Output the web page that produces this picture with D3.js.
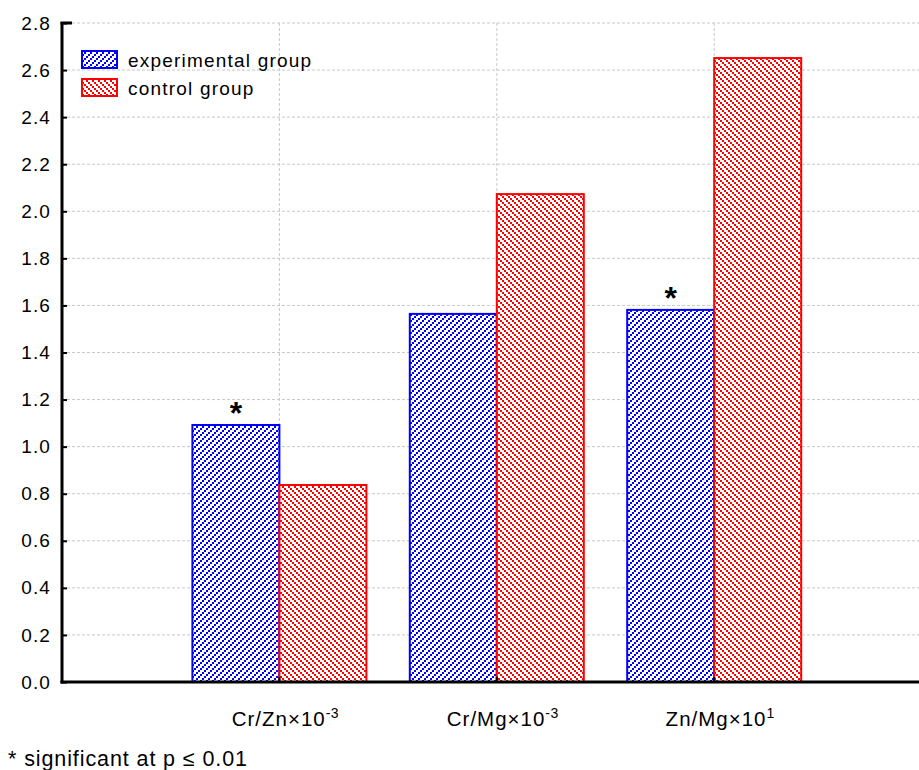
<!DOCTYPE html>
<html><head><meta charset="utf-8">
<script src="https://cdn.jsdelivr.net/npm/d3@7"></script>
<style>body{margin:0;background:#fff}svg{display:block}text{font-family:"Liberation Sans",Arial,Helvetica,sans-serif}</style>
</head><body><svg id="c" width="919" height="770"></svg>
<script>
const categories = ["Cr/Zn", "Cr/Mg", "Zn/Mg"];
const exponents = ["-3", "-3", "1"];
const experimental = [1.092, 1.564, 1.581];
const control = [0.837, 2.073, 2.651];
const significant = [true, false, true];
const seriesNames = ["experimental group", "control group"];
const yTicks = [0,0.2,0.4,0.6,0.8,1.0,1.2,1.4,1.6,1.8,2.0,2.2,2.4,2.6,2.8];

const svg = d3.select("#c");
const L = 62, T = 23, B = 682, R = 919;
const y = d3.scaleLinear().domain([0, 2.8]).range([B, T]);
const x = d3.scalePoint().domain(["_a", ...categories, "_b"]).range([L, L + 4 * 217.4]);
const bw = 87;

const defs = svg.append("defs");
function pat(id, color, dir) {
  const p = defs.append("pattern").attr("id", id).attr("patternUnits", "userSpaceOnUse")
    .attr("width", 6).attr("height", 6);
  p.append("rect").attr("width", 6).attr("height", 6).attr("fill", "#fff");
  const pts = dir === "/" ? [[4,0],[2,2],[0,4]] : [[0,0],[2,2],[4,4]];
  pts.forEach(([a,b]) => p.append("rect").attr("x", a).attr("y", b).attr("width", 2).attr("height", 2).attr("fill", color));
}
pat("pb", "#0000ff", "/");
pat("pr", "#ff0000", "\\");

// grid
const g = svg.append("g");
g.selectAll(".hg").data(yTicks.filter(d => d > 0)).join("line")
  .attr("x1", L).attr("x2", R).attr("y1", d => y(d)).attr("y2", d => y(d))
  .attr("stroke", "#c8c8c8").attr("stroke-dasharray", "3,2").attr("stroke-width", 1);
g.selectAll(".vg").data(categories).join("line")
  .attr("x1", d => x(d)).attr("x2", d => x(d)).attr("y1", T).attr("y2", B)
  .attr("stroke", "#c8c8c8").attr("stroke-dasharray", "3,2").attr("stroke-width", 1);

// bars
const data = categories.map((c, i) => ({c, e: experimental[i], k: control[i], s: significant[i]}));
svg.selectAll(".be").data(data).join("rect")
  .attr("x", d => x(d.c) - bw).attr("y", d => y(d.e)).attr("width", bw).attr("height", d => B - y(d.e))
  .attr("fill", "url(#pb)").attr("stroke", "#0000ff").attr("stroke-width", 2);
svg.selectAll(".bk").data(data).join("rect")
  .attr("x", d => x(d.c)).attr("y", d => y(d.k)).attr("width", bw).attr("height", d => B - y(d.k))
  .attr("fill", "url(#pr)").attr("stroke", "#ff0000").attr("stroke-width", 2);
svg.selectAll(".st").data(data.filter(d => d.s)).join("text")
  .attr("x", d => x(d.c) - bw / 2).attr("y", d => y(d.e) - 1)
  .attr("text-anchor", "middle").attr("font-size", 32).attr("font-weight", "bold").text("*");

// axes
const ya = d3.axisLeft(y).tickValues(yTicks).tickFormat(d3.format(".1f")).tickSize(-5).tickPadding(11);
const yg = svg.append("g").attr("transform", `translate(${L},0)`).call(ya);
yg.select(".domain").remove();
yg.selectAll("text").attr("font-size", 19).attr("letter-spacing", 1.1).attr("fill", "#000")
  .style("font-family", "Liberation Sans, Arial, sans-serif");
yg.selectAll("line").attr("stroke", "#000").attr("stroke-width", 2);
svg.append("line").attr("x1", L).attr("x2", L).attr("y1", T - 1).attr("y2", B + 1.5).attr("stroke", "#000").attr("stroke-width", 3);
svg.append("line").attr("x1", L - 1.5).attr("x2", R).attr("y1", B).attr("y2", B).attr("stroke", "#000").attr("stroke-width", 3);
svg.append("line").attr("x1", L - 1.5).attr("x2", L + 10).attr("y1", T).attr("y2", T).attr("stroke", "#000").attr("stroke-width", 3);
svg.selectAll(".xt").data(categories).join("line")
  .attr("x1", d => x(d)).attr("x2", d => x(d)).attr("y1", B).attr("y2", B - 5).attr("stroke", "#000").attr("stroke-width", 2);

const xl = svg.selectAll(".xl").data(categories).join("text")
  .attr("x", d => x(d) + 6).attr("y", 726).attr("text-anchor", "middle").attr("font-size", 20.5)
  .attr("letter-spacing", 1.0);
xl.append("tspan").text(d => d + "\u00d710");
xl.append("tspan").attr("dy", -8).attr("font-size", 14).attr("letter-spacing", 0.5).text((d, i) => exponents[i]);

// legend
const leg = svg.append("g");
[["url(#pb)", "#0000ff"], ["url(#pr)", "#ff0000"]].forEach(([f, s], i) => {
  leg.append("rect").attr("x", 82).attr("y", 51 + i * 28).attr("width", 35).attr("height", 17)
    .attr("fill", f).attr("stroke", s).attr("stroke-width", 2);
  leg.append("text").attr("x", 128).attr("y", 67 + i * 28).attr("font-size", 19).attr("letter-spacing", 1.2)
    .text(seriesNames[i]);
});

svg.append("text").attr("x", 8).attr("y", 766).attr("font-size", 21.5).attr("letter-spacing", 0.9)
  .text("* significant at p \u2264 0.01");
</script></body></html>
